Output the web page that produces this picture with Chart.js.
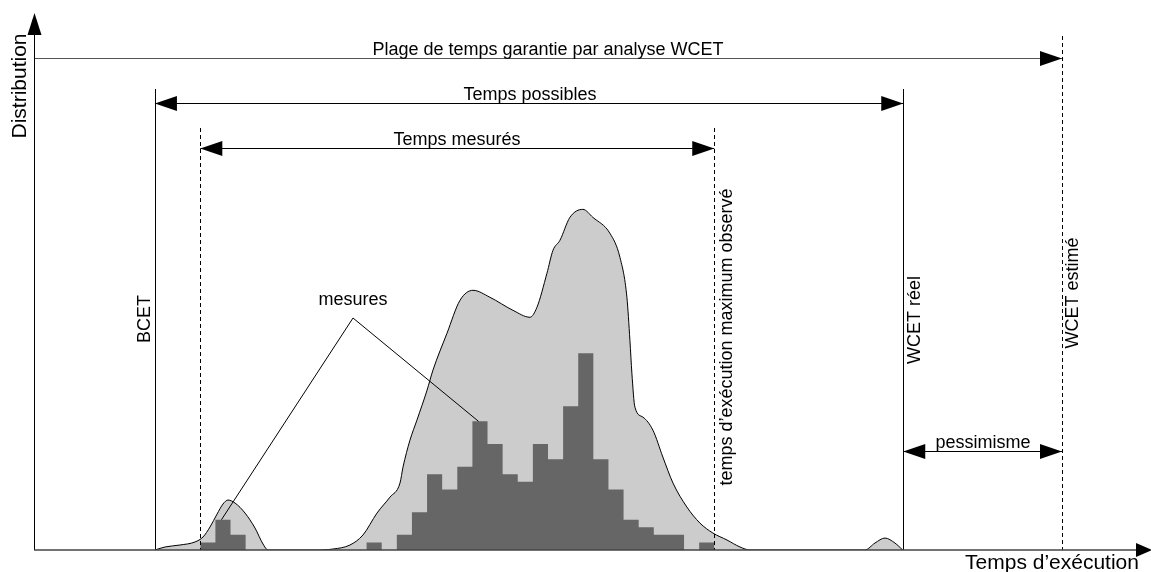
<!DOCTYPE html>
<html>
<head>
<meta charset="utf-8">
<script src="https://cdn.jsdelivr.net/npm/chart.js"></script>
<style>
  html, body { margin: 0; padding: 0; background: #fff; }
  canvas { display: block; }
</style>
</head>
<body>
<canvas id="wcetChart" width="1151" height="572"></canvas>
<script>
// Histogramme des mesures : une barre par unité de temps, à partir de histStart
const histStart = 11;
const histCounts = [1, 4, 2, 0, 0, 0, 0, 0, 0, 0, 0, 1, 0, 2, 5, 10, 8, 11, 17, 14,
                    10, 9, 14, 12, 19, 26, 12, 8, 4, 3, 2, 2, 0, 1];

// Distribution des temps possibles (courbe grise)
const curveX = [8.0, 8.67, 9.66, 10.65, 11.18, 11.64, 12.11, 12.5, 12.83, 13.3, 13.96, 14.62, 15.15, 15.48,
                18.59, 19.78, 20.9, 21.76, 22.69, 23.55, 24.21, 24.41, 24.87, 25.33, 26.0, 26.39, 27.32,
                28.18, 29.04, 30.16, 31.68, 32.81, 33.27, 33.93, 34.33, 34.79, 35.45, 36.31, 36.97, 38.1,
                38.76, 39.22, 39.42, 39.55, 39.75, 40.28, 40.94, 41.6, 42.27, 43.19, 44.05, 44.91, 45.84,
                46.7, 47.36, 54.96, 55.63, 56.29, 56.95, 57.47];
const curveY = [0, 0.4, 0.66, 1.06, 1.72, 3.03, 4.75, 6.07, 6.6, 6.2, 4.88, 2.9, 0.79, 0,
                0, 0.13, 0.66, 1.98, 4.88, 6.99, 8.84, 10.95, 14.51, 17.15, 21.11, 23.75, 28.63,
                32.98, 34.3, 33.38, 31.66, 30.74, 32.06, 36.54, 39.58, 40.9, 43.93, 44.99, 43.93, 41.82,
                38.65, 33.38, 27.7, 23.35, 18.87, 17.55, 15.83, 12.27, 8.84, 5.67, 3.56, 2.24, 1.32,
                0.4, 0, 0, 0.92, 1.58, 0.92, 0];

// Repères temporels
const bcet = 8.0;
const minMesure = 11;
const maxMesure = 45;
const wcetReel = 57.5;
const wcetEstime = 68.0;

// Barres pointées par l'étiquette "mesures"
const leaderBins = [1, 18];

const histData = histCounts.map((c, i) => ({ x: histStart + i, y: c }));
histData.push({ x: histStart + histCounts.length, y: 0 });
const curveData = curveX.map((v, i) => ({ x: v, y: curveY[i] }));

const FONT = '"Liberation Sans", Arial, sans-serif';

function arrowHead(ctx, tx, ty, dir, len = 22, half = 7.5) {
  ctx.beginPath();
  ctx.moveTo(tx, ty);
  if (dir === 'right') { ctx.lineTo(tx - len, ty - half); ctx.lineTo(tx - len, ty + half); }
  if (dir === 'left')  { ctx.lineTo(tx + len, ty - half); ctx.lineTo(tx + len, ty + half); }
  if (dir === 'up')    { ctx.lineTo(tx - half, ty + len); ctx.lineTo(tx + half, ty + len); }
  ctx.closePath();
  ctx.fill();
}

function hArrow(ctx, x1, x2, yy, both, color = '#000') {
  ctx.strokeStyle = color;
  ctx.lineWidth = 1;
  ctx.beginPath();
  ctx.moveTo(x1, yy + 0.5);
  ctx.lineTo(x2, yy + 0.5);
  ctx.stroke();
  ctx.fillStyle = '#000';
  arrowHead(ctx, x2, yy + 0.5, 'right');
  if (both) arrowHead(ctx, x1, yy + 0.5, 'left');
}

function vLine(ctx, px, top, bottom, dashed) {
  ctx.save();
  ctx.strokeStyle = '#000';
  ctx.lineWidth = 1;
  if (dashed) ctx.setLineDash([4, 3]);
  ctx.beginPath();
  ctx.moveTo(Math.round(px) + 0.5, top);
  ctx.lineTo(Math.round(px) + 0.5, bottom);
  ctx.stroke();
  ctx.restore();
}

function vText(ctx, text, cx, cy, size) {
  ctx.save();
  ctx.translate(cx, cy);
  ctx.rotate(-Math.PI / 2);
  ctx.font = size + 'px ' + FONT;
  ctx.textAlign = 'center';
  ctx.textBaseline = 'middle';
  ctx.fillText(text, 0, 0);
  ctx.restore();
}

function hText(ctx, text, cx, baseY, size) {
  ctx.font = size + 'px ' + FONT;
  ctx.textAlign = 'center';
  ctx.textBaseline = 'alphabetic';
  ctx.fillText(text, cx, baseY);
}

const decor = {
  id: 'wcetDecor',
  afterDatasetsDraw(chart) {
    const { ctx, chartArea: a, scales: { x, y } } = chart;
    ctx.save();
    ctx.fillStyle = '#000';

    // lignes verticales
    vLine(ctx, x.getPixelForValue(bcet), 89, a.bottom, false);
    vLine(ctx, x.getPixelForValue(minMesure), 128, a.bottom, true);
    vLine(ctx, x.getPixelForValue(maxMesure), 128, a.bottom, true);
    vLine(ctx, x.getPixelForValue(wcetReel), 89, a.bottom, false);
    vLine(ctx, x.getPixelForValue(wcetEstime), 36, a.bottom, true);

    // flèches horizontales
    hArrow(ctx, a.left, x.getPixelForValue(wcetEstime), 58, false, '#555');
    hArrow(ctx, x.getPixelForValue(bcet), x.getPixelForValue(wcetReel), 103, true);
    hArrow(ctx, x.getPixelForValue(minMesure), x.getPixelForValue(maxMesure), 148, true);
    hArrow(ctx, x.getPixelForValue(wcetReel), x.getPixelForValue(wcetEstime), 451, true);

    // traits de l'étiquette "mesures"
    ctx.strokeStyle = '#000';
    ctx.lineWidth = 1;
    const apex = [353, 318];
    leaderBins.forEach(b => {
      ctx.beginPath();
      ctx.moveTo(apex[0], apex[1]);
      ctx.lineTo(x.getPixelForValue(histStart + b + 0.4), y.getPixelForValue(histCounts[b]));
      ctx.stroke();
    });

    // textes
    ctx.fillStyle = '#000';
    hText(ctx, 'Plage de temps garantie par analyse WCET', 548, 55, 18);
    hText(ctx, 'Temps possibles', 530, 100, 18);
    hText(ctx, 'Temps mesurés', 457, 145, 18);
    hText(ctx, 'mesures', 353, 305, 18);
    hText(ctx, 'pessimisme', 983, 448, 18);
    hText(ctx, 'Temps d’exécution', 1052, 569, 21);

    vText(ctx, 'BCET', 145, 319, 18);
    vText(ctx, 'temps d’exécution maximum observé', 727, 337, 18);
    vText(ctx, 'WCET réel', 915, 320, 18);
    vText(ctx, 'WCET estimé', 1073, 293, 18);
    vText(ctx, 'Distribution', 20, 86, 21);

    // axes
    ctx.strokeStyle = '#000';
    ctx.lineWidth = 1;
    ctx.beginPath();
    ctx.moveTo(a.left + 0.5, a.bottom);
    ctx.lineTo(a.left + 0.5, 30);
    ctx.stroke();
    arrowHead(ctx, a.left + 0.5, 13, 'up', 22, 7);

    ctx.strokeStyle = '#444';
    ctx.lineWidth = 1.6;
    ctx.beginPath();
    ctx.moveTo(a.left, a.bottom);
    ctx.lineTo(1140, a.bottom);
    ctx.stroke();
    arrowHead(ctx, 1152, a.bottom, 'right', 16, 7);

    ctx.restore();
  }
};

new Chart(document.getElementById('wcetChart').getContext('2d'), {
  type: 'line',
  data: {
    datasets: [
      {
        label: 'mesures',
        data: histData,
        stepped: 'before',
        backgroundColor: '#666666',
        borderWidth: 0,
        borderColor: 'rgba(0,0,0,0)',
        pointRadius: 0,
        fill: 'origin'
      },
      {
        label: 'Temps possibles',
        data: curveData,
        cubicInterpolationMode: 'monotone',
        backgroundColor: '#cccccc',
        borderColor: '#000000',
        borderWidth: 1,
        pointRadius: 0,
        fill: 'origin'
      }
    ]
  },
  options: {
    responsive: false,
    animation: false,
    layout: { padding: { left: 34, right: 21, top: 20, bottom: 22 } },
    scales: {
      x: { type: 'linear', min: 0, max: 72.5, display: false },
      y: { min: 0, max: 70, display: false }
    },
    plugins: {
      legend: { display: false },
      tooltip: { enabled: false }
    }
  },
  plugins: [decor]
});
</script>
</body>
</html>
